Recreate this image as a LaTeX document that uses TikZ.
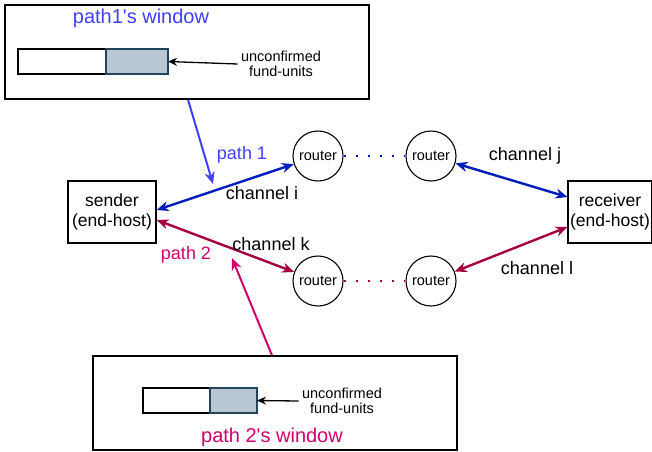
\documentclass[tikz,border=0pt]{standalone}
\usepackage{fontspec}
\setmainfont{Liberation Sans}
\usetikzlibrary{arrows.meta,positioning}

\definecolor{chanblue}{HTML}{001DBC}
\definecolor{pathblue}{HTML}{3F3FFF}
\definecolor{chanred}{HTML}{A50040}
\definecolor{pathred}{HTML}{D0006E}
\definecolor{unitgrey}{HTML}{BAC8D3}
\definecolor{unitedge}{HTML}{23445D}

\tikzset{
    winbox/.style={draw, line width=1.3pt, minimum width=364pt, minimum height=94pt, inner sep=0pt},
    freebox/.style={draw, line width=1.1pt, minimum height=25pt, inner sep=0pt, outer sep=0pt},
    usedbox/.style={freebox, draw=unitedge, fill=unitgrey},
    hostbox/.style={draw, line width=1.3pt, minimum width=88pt, minimum height=62pt, inner sep=2pt,
        align=center, font=\fontsize{17.5}{20}\selectfont},
    router/.style={draw, circle, line width=1.1pt, minimum size=50pt, inner sep=0pt,
        font=\fontsize{14.5}{16}\selectfont},
    smalltext/.style={align=center, font=\fontsize{14.5}{15}\selectfont},
    chantext/.style={font=\fontsize{18}{20}\selectfont},
    wintitle/.style={font=\fontsize{20}{22}\selectfont},
    chanarrow/.style={line width=2.4pt, {Stealth[length=12pt,width=10pt]}-{Stealth[length=12pt,width=10pt]}},
    patharrow/.style={line width=2pt, -{Stealth[length=12pt,width=10pt]}},
    unitarrow/.style={line width=1.3pt, -{Stealth[length=9pt,width=8pt]}},
    dotline/.style={line width=2.6pt, dash pattern=on 2.6pt off 9.4pt}
}

\begin{document}
\begin{tikzpicture}[x=1pt, y=-1pt]
    \useasboundingbox (0,0) rectangle (652,451);

    % windows
    \node[winbox] (win1) at (187,52) {};
    \node[wintitle, text=pathblue] (title1) at (141,18) {path1\textquotesingle s window};
    \node[freebox, minimum width=88pt] (free1) at (62,61.5) {};
    \node[usedbox, minimum width=62pt, right=0pt of free1] (used1) {};
    \node[smalltext] (unc1) at (281,64) {unconfirmed\\fund-units};
    \draw[unitarrow] (unc1.west) -- (used1.east);

    \node[winbox] (win2) at (275,403) {};
    \node[wintitle, text=pathred] (title2) at (272,437) {path 2\textquotesingle s window};
    \node[freebox, minimum width=67pt] (free2) at (176.5,400.5) {};
    \node[usedbox, minimum width=47pt, right=0pt of free2] (used2) {};
    \node[smalltext] (unc2) at (342,401) {unconfirmed\\fund-units};
    \draw[unitarrow] (unc2.west) -- (used2.east);

    % hosts and routers
    \node[hostbox] (sender) at (112,212) {sender\\(end-host)};
    \node[hostbox, minimum width=82pt] (receiver) at (610,212) {receiver\\(end-host)};
    \node[router] (r1) at (318,156) {router};
    \node[router] (r2) at (431,156) {router};
    \node[router] (r3) at (318,281) {router};
    \node[router] (r4) at (431,281) {router};

    % channels
    \draw[chanarrow, chanblue] ([yshift=2pt]sender.east) -- (r1);
    \draw[chanarrow, chanblue] (r2) -- ([yshift=15pt]receiver.west);
    \draw[chanarrow, chanred] ([yshift=-8pt]sender.east) -- (r3);
    \draw[chanarrow, chanred] (r4) -- ([yshift=-15pt]receiver.west);
    \draw[dotline, chanblue] (r1.east) -- (r2.west);
    \draw[dotline, chanred] (r3.east) -- (r4.west);

    \node[chantext] (chi) at (262,193) {channel i};
    \node[chantext] (chj) at (525,156) {channel j};
    \node[chantext] (chk) at (271,244) {channel k};
    \node[chantext] (chl) at (537,268) {channel l};

    % paths
    \coordinate (p1end) at (213,184);
    \coordinate (p2end) at (232,258);
    \draw[patharrow, pathblue] ([xshift=1pt]win1.south) -- (p1end);
    \draw[patharrow, pathred] ([xshift=-3pt]win2.north) -- (p2end);
    \node[chantext, text=pathblue] (path1) at (242,155) {path 1};
    \node[chantext, text=pathred] (path2) at (186,255) {path 2};
\end{tikzpicture}
\end{document}
